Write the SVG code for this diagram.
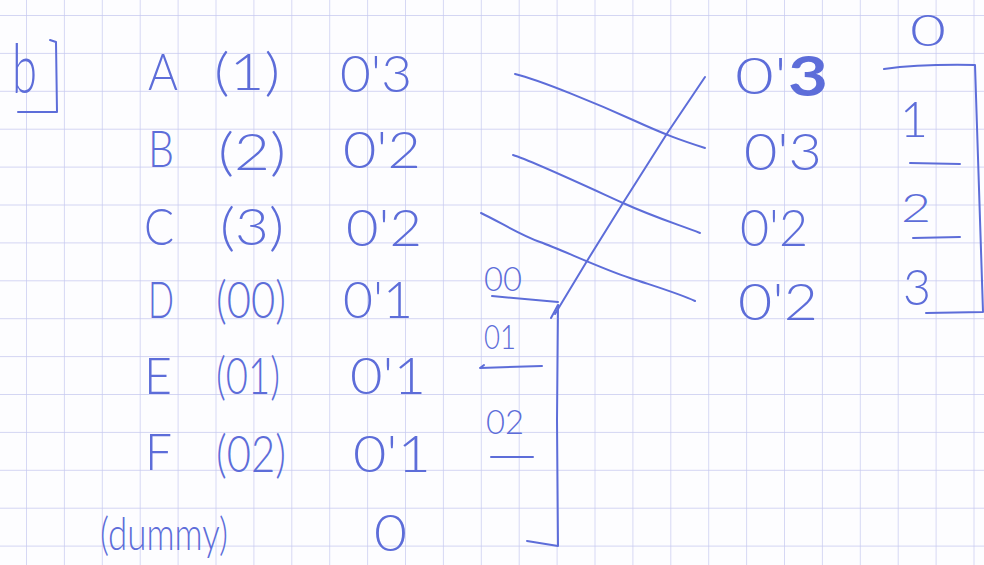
<svg xmlns="http://www.w3.org/2000/svg" width="984" height="565" viewBox="0 0 984 565">
<defs>
<pattern id="grid" x="26" y="15" width="37.9" height="37.9" patternUnits="userSpaceOnUse">
<path d="M0 0V37.9M0 0H37.9" fill="none" stroke="#c6c9f0" stroke-width="1.4"/>
</pattern>
<style>
.t{font-family:Lato,"Liberation Sans",sans-serif;font-weight:300;fill:#5d6dd9;font-size:52px}
.s{font-size:34px}
.ink{fill:none;stroke:#5d6dd9;stroke-width:2;stroke-linecap:round;stroke-linejoin:round}
</style>
</defs>
<rect width="984" height="565" fill="#fdfdff"/>
<rect width="984" height="565" fill="url(#grid)"/>

<g id="label-b">
<text class="t" x="12" y="93" style="font-size:68px" textLength="25" lengthAdjust="spacingAndGlyphs">b</text>
<path class="ink" d="M50 40L56 42L57 112L18 112"/>
</g>

<g id="row-A">
<text class="t" x="148" y="90" textLength="30" lengthAdjust="spacingAndGlyphs">A</text>
<text class="t" x="214" y="90" textLength="66" lengthAdjust="spacingAndGlyphs">(1)</text>
<text class="t" x="340" y="92" textLength="72" lengthAdjust="spacingAndGlyphs">0'3</text>
</g>
<g id="row-B">
<text class="t" x="148" y="167" textLength="26" lengthAdjust="spacingAndGlyphs">B</text>
<text class="t" x="218" y="170" textLength="68" lengthAdjust="spacingAndGlyphs">(2)</text>
<text class="t" x="343" y="168" textLength="78" lengthAdjust="spacingAndGlyphs">0'2</text>
</g>
<g id="row-C">
<text class="t" x="144" y="245" textLength="30" lengthAdjust="spacingAndGlyphs">C</text>
<text class="t" x="220" y="245" textLength="64" lengthAdjust="spacingAndGlyphs">(3)</text>
<text class="t" x="346" y="246" textLength="76" lengthAdjust="spacingAndGlyphs">0'2</text>
</g>
<g id="row-D">
<text class="t" x="148" y="318" textLength="26" lengthAdjust="spacingAndGlyphs">D</text>
<text class="t" x="216" y="318" textLength="70" lengthAdjust="spacingAndGlyphs">(00)</text>
<text class="t" x="343" y="318" textLength="70" lengthAdjust="spacingAndGlyphs">0'1</text>
</g>
<g id="row-E">
<text class="t" x="144" y="394" textLength="28" lengthAdjust="spacingAndGlyphs">E</text>
<text class="t" x="216" y="394" textLength="64" lengthAdjust="spacingAndGlyphs">(01)</text>
<text class="t" x="350" y="394" textLength="76" lengthAdjust="spacingAndGlyphs">0'1</text>
</g>
<g id="row-F">
<text class="t" x="145" y="470" textLength="27" lengthAdjust="spacingAndGlyphs">F</text>
<text class="t" x="216" y="472" textLength="70" lengthAdjust="spacingAndGlyphs">(02)</text>
<text class="t" x="353" y="472" textLength="78" lengthAdjust="spacingAndGlyphs">0'1</text>
</g>
<g id="row-dummy">
<text class="t" x="100" y="550" style="font-size:46px" textLength="128" lengthAdjust="spacingAndGlyphs">(dummy)</text>
<text class="t" x="374" y="551" textLength="33" lengthAdjust="spacingAndGlyphs">0</text>
</g>

<g id="mid-bracket">
<text class="t s" x="484" y="291" textLength="38" lengthAdjust="spacingAndGlyphs">00</text>
<text class="t s" x="484" y="349" textLength="32" lengthAdjust="spacingAndGlyphs">01</text>
<text class="t s" x="486" y="434" textLength="38" lengthAdjust="spacingAndGlyphs">02</text>
<path class="ink" d="M492 296L558 302"/>
<path class="ink" d="M484 365L480 368L542 366"/>
<path class="ink" d="M491 457L533 457"/>
<path class="ink" d="M551 318L558 305L557 420L558 546L527 541"/>
</g>

<g id="right-col">
<text class="t" x="735" y="94" textLength="52" lengthAdjust="spacingAndGlyphs">0'</text>
<text class="t" x="788" y="96" style="font-weight:700;font-size:56px" textLength="40" lengthAdjust="spacingAndGlyphs">3</text>
<text class="t" x="744" y="170" textLength="78" lengthAdjust="spacingAndGlyphs">0'3</text>
<text class="t" x="740" y="246" textLength="68" lengthAdjust="spacingAndGlyphs">0'2</text>
<text class="t" x="738" y="320" textLength="80" lengthAdjust="spacingAndGlyphs">0'2</text>
</g>

<g id="right-bracket">
<text class="t" x="910" y="46" style="font-size:44px" textLength="36" lengthAdjust="spacingAndGlyphs">0</text>
<text class="t" x="900" y="137" style="font-size:50px" textLength="28" lengthAdjust="spacingAndGlyphs">1</text>
<text class="t" x="901" y="222" style="font-size:40px" textLength="30" lengthAdjust="spacingAndGlyphs">2</text>
<text class="t" x="903" y="305" style="font-size:50px" textLength="28" lengthAdjust="spacingAndGlyphs">3</text>
<path class="ink" d="M884 69Q920 64 975 65L983 312L926 313"/>
<path class="ink" d="M910 163L960 164"/>
<path class="ink" d="M913 238L960 237"/>
</g>

<g id="connectors">
<path class="ink" d="M515 74C540 80 600 105 633 120S680 140 705 148"/>
<path class="ink" d="M513 155C530 160 590 188 623 203S680 225 700 233"/>
<path class="ink" d="M481 213C500 222 520 235 540 242S600 268 630 278S680 294 695 301"/>
<path class="ink" d="M705 77L668 132L623 203L587 261L555 314"/>
</g>
</svg>
